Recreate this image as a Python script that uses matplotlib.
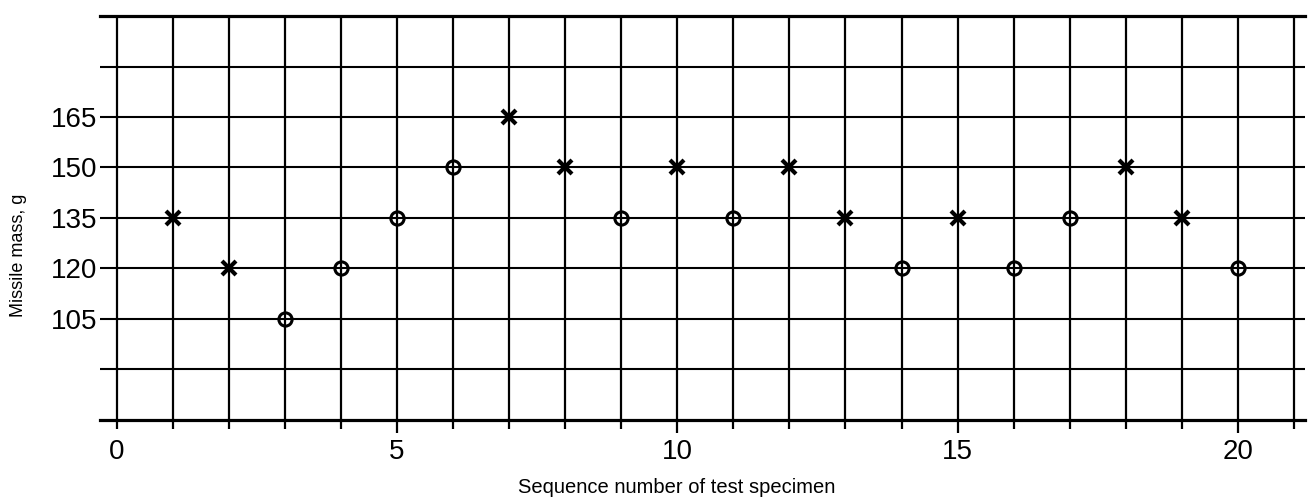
import matplotlib
matplotlib.use("Agg")
import matplotlib.pyplot as plt

# -------------------------------------------------------
# DATA - up-and-down test sequence
# -------------------------------------------------------
specimen = list(range(1, 21))
mass = [135, 120, 105, 120, 135, 150, 165, 150, 135, 150,
        135, 150, 135, 120, 135, 120, 135, 150, 135, 120]
# x = failure, o = no failure
result = ["x", "x", "o", "o", "o", "o", "x", "x", "o", "x",
          "o", "x", "x", "o", "x", "o", "o", "x", "x", "o"]

y_ticks = [105, 120, 135, 150, 165]
y_grid = [90, 105, 120, 135, 150, 165, 180]
x_ticks = [0, 5, 10, 15, 20]
x_grid = list(range(0, 22))

plt.rcParams['font.family'] = ['Liberation Sans', 'DejaVu Sans']

fig = plt.figure(figsize=(13.09, 5.01), dpi=100)
ax = fig.add_axes([0.0764, 0.162, 0.9206, 0.806])
ax.set_xlim(-0.3, 21.2)
ax.set_ylim(75, 195)

# grid lines (drawn by hand so the verticals can poke below the axis)
for yv in y_grid:
    ax.axhline(yv, color="black", lw=1.5, zorder=1)
ax.axhline(195, color="black", lw=2.3, zorder=1, clip_on=False)
ax.axhline(75, color="black", lw=2.3, zorder=1, clip_on=False)
for xv in x_grid:
    ext = 71.0 if xv in x_ticks[1:] else 72.2
    ax.vlines(xv, ext, 195, color="black", lw=1.6, zorder=1, clip_on=False)

for s in ax.spines.values():
    s.set_visible(False)

# markers
for xi, yi, r in zip(specimen, mass, result):
    if r == "x":
        ax.plot(xi, yi, marker="x", ms=9.5, mew=3, color="black", zorder=3)
    else:
        ax.plot(xi, yi, marker="o", ms=9.5, mew=2.2, mfc="none",
                color="black", zorder=3)

ax.set_xticks(x_ticks)
ax.set_xticklabels([str(v) for v in x_ticks], fontsize=20)
ax.set_yticks(y_ticks)
ax.set_yticklabels([str(v) for v in y_ticks], fontsize=20)
ax.tick_params(axis="x", length=0, pad=14)
ax.tick_params(axis="y", length=0, pad=2)

fig.text(0.517, 0.027, "Sequence number of test specimen", fontsize=14.5,
         ha="center", va="center")
fig.text(0.014, 0.49, "Missile mass, g", fontsize=13, rotation=90,
         ha="center", va="center")

plt.savefig("out.png", dpi=100)
